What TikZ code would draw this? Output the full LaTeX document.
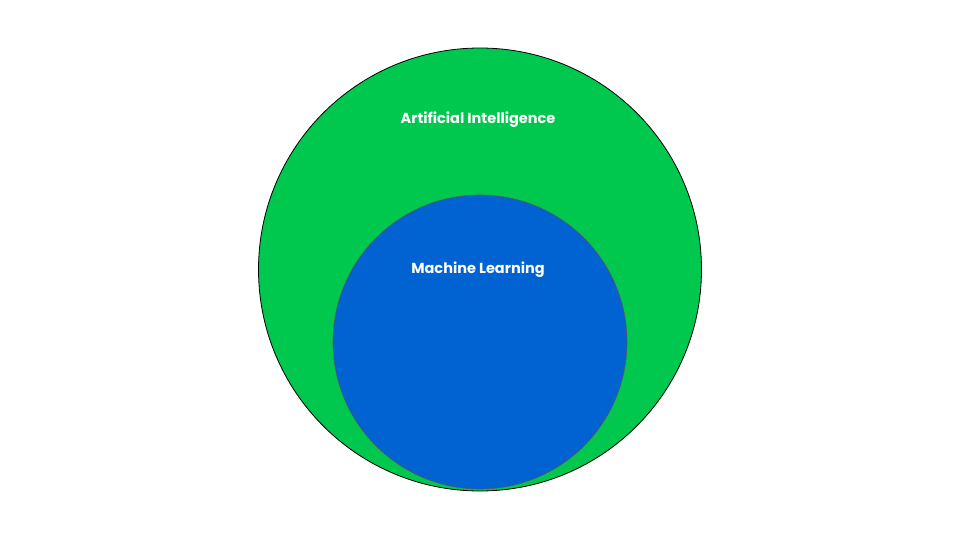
\documentclass[tikz,border=0pt]{standalone}
\usepackage{fontspec}
\setmainfont{Poppins}
\definecolor{aigreen}{HTML}{00C84F}
\definecolor{mlblue}{HTML}{0063D1}
\begin{document}
\begin{tikzpicture}[x=1pt,y=-1pt,
  lbl/.style={text=white,font=\bfseries\fontsize{14.5}{16}\selectfont}]
\useasboundingbox (0,0) rectangle (960,540);
\fill[white] (0,0) rectangle (960,540);
\node[circle,fill=aigreen,draw=black,line width=0.8pt,minimum size=443pt,inner sep=0pt] (ai) at (480,269.5) {};
\node[circle,fill=mlblue,draw=gray!70!black,line width=0.6pt,minimum size=294pt,inner sep=0pt] (ml) at (480,342) {};
\node[lbl] (ait) at (478,120) {Artificial Intelligence};
\node[lbl] (mlt) at (478,270) {Machine Learning};
\end{tikzpicture}
\end{document}
